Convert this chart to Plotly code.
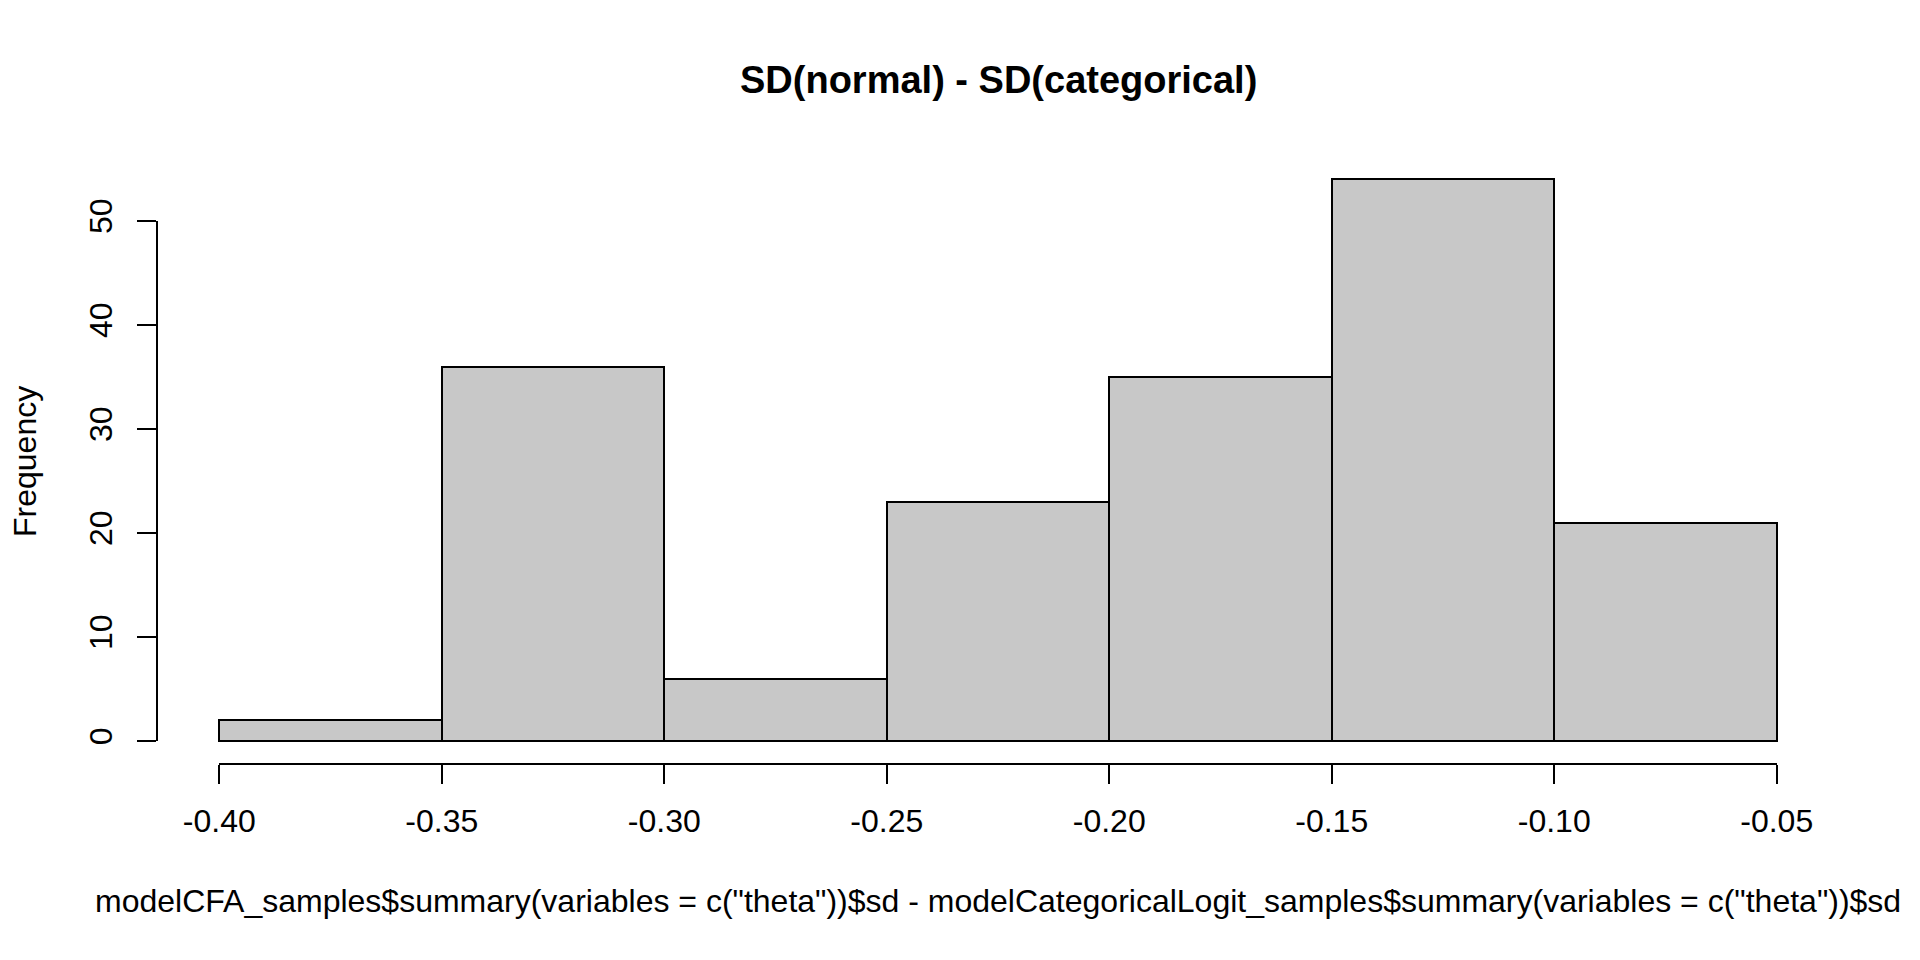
import plotly.graph_objects as go

# ---- data ----
bin_edges = [-0.40, -0.35, -0.30, -0.25, -0.20, -0.15, -0.10, -0.05]
counts = [2, 36, 6, 23, 35, 54, 21]
x_tick_labels = ["-0.40", "-0.35", "-0.30", "-0.25", "-0.20", "-0.15", "-0.10", "-0.05"]
y_ticks = [0, 10, 20, 30, 40, 50]
y_tick_labels = ["0", "10", "20", "30", "40", "50"]
title_text = "SD(normal) - SD(categorical)"
x_label = 'modelCFA_samples$summary(variables = c("theta"))$sd - modelCategoricalLogit_samples$summary(variables = c("theta"))$sd'
y_label = "Frequency"

# ---- layout geometry (pixels) ----
W, H = 1920, 960
plot_l, plot_r, plot_t, plot_b = 157, 1839, 157, 763.5
FONT = "Liberation Sans, Arial, Helvetica, sans-serif"
LW = 2

xlo, xhi = bin_edges[0], bin_edges[-1]
xpad = 0.04 * (xhi - xlo)
xr = [xlo - xpad, xhi + xpad]
ymax = max(counts)
yr = [-0.04 * ymax, ymax * 1.04]


def px_x(v):
    return plot_l + (v - xr[0]) / (xr[1] - xr[0]) * (plot_r - plot_l)


def px_y(v):
    return plot_b - (v - yr[0]) / (yr[1] - yr[0]) * (plot_b - plot_t)


mids = [(a + b) / 2 for a, b in zip(bin_edges[:-1], bin_edges[1:])]
widths = [b - a for a, b in zip(bin_edges[:-1], bin_edges[1:])]

fig = go.Figure()
fig.add_trace(go.Bar(
    x=mids, y=counts, width=widths,
    marker=dict(color="#C8C8C8", line=dict(color="black", width=LW)),
    hoverinfo="skip", showlegend=False,
))
# invisible trace that carries the R-style axes
fig.add_trace(go.Scatter(
    x=[xlo, xhi], y=[y_ticks[0], y_ticks[-1]], xaxis="x2", yaxis="y2",
    mode="markers", marker=dict(opacity=0), hoverinfo="skip", showlegend=False,
))

tickfont = dict(family=FONT, size=32, color="black")

fig.update_layout(
    template="none",
    width=W, height=H, autosize=False,
    margin=dict(l=0, r=0, t=0, b=0, pad=0, autoexpand=False),
    paper_bgcolor="white", plot_bgcolor="rgba(0,0,0,0)",
    bargap=0, showlegend=False,
    xaxis=dict(domain=[plot_l / W, plot_r / W], range=xr, visible=False,
               fixedrange=True, automargin=False),
    yaxis=dict(domain=[1 - plot_b / H, 1 - plot_t / H], range=yr, visible=False,
               fixedrange=True, automargin=False),
    xaxis2=dict(
        domain=[px_x(xlo) / W, px_x(xhi) / W], range=[xlo, xhi],
        anchor="free", position=1 - plot_b / H,
        showline=True, linecolor="black", linewidth=LW,
        ticks="outside", ticklen=19, tickwidth=LW, tickcolor="black",
        tickvals=bin_edges, ticktext=x_tick_labels, tickfont=tickfont,
        ticklabelstandoff=10, automargin=False,
        showgrid=False, zeroline=False, fixedrange=True,
    ),
    yaxis2=dict(
        domain=[1 - px_y(y_ticks[0]) / H, 1 - px_y(y_ticks[-1]) / H],
        range=[y_ticks[0], y_ticks[-1]],
        anchor="free", position=plot_l / W,
        showline=True, linecolor="black", linewidth=LW,
        ticks="outside", ticklen=19, tickwidth=LW, tickcolor="black",
        tickvals=y_ticks, ticktext=y_tick_labels, tickfont=tickfont,
        tickangle=-90, ticklabelstandoff=12, automargin=False,
        showgrid=False, zeroline=False, fixedrange=True,
    ),
    annotations=[
        dict(text="<b>" + title_text + "</b>", x=(plot_l + plot_r) / 2 / W, y=1 - 80 / H,
             xref="paper", yref="paper", xanchor="center", yanchor="middle",
             showarrow=False, font=dict(family=FONT, size=38, color="black")),
        dict(text=x_label, x=(plot_l + plot_r) / 2 / W, y=1 - 901 / H,
             xref="paper", yref="paper", xanchor="center", yanchor="middle",
             showarrow=False, font=dict(family=FONT, size=32, color="black")),
        dict(text=y_label, x=25 / W, y=1 - 462 / H, textangle=-90,
             xref="paper", yref="paper", xanchor="center", yanchor="middle",
             showarrow=False, font=dict(family=FONT, size=32, color="black")),
    ],
)

fig.write_html(
    "out.html",
    config={"displayModeBar": False},
    post_script="document.body.style.margin='0';document.body.style.overflow='hidden';",
)
